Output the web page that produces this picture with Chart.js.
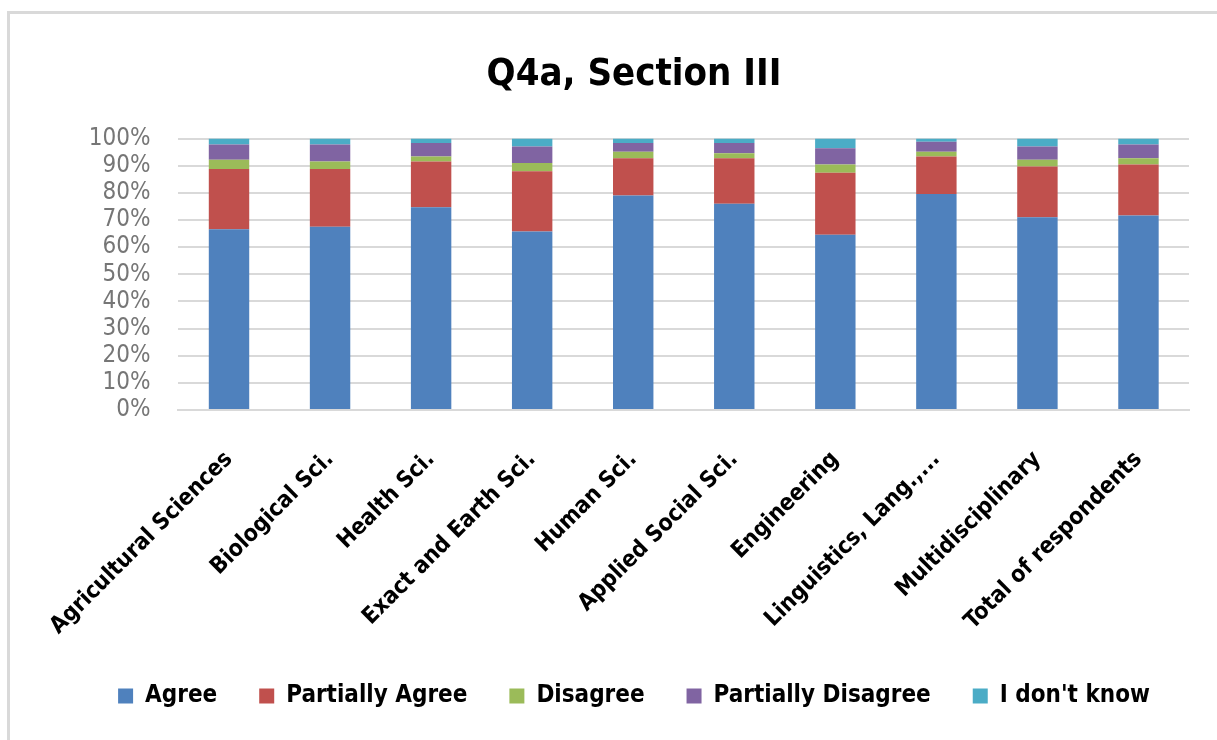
<!DOCTYPE html>
<html>
<head>
<meta charset="utf-8">
<script src="https://cdn.jsdelivr.net/npm/chart.js@4"></script>
<style>
  html, body { margin: 0; background: #fff; overflow: hidden; }
  #frame {
    position: absolute; left: 7px; top: 11px;
    width: 1251px; height: 729px;
    border-left: 3px solid #d9d9d9; border-top: 3px solid #d9d9d9;
  }
  #frame canvas { display: block; }
</style>
</head>
<body>
<div id="frame"><canvas id="q4a" width="1248" height="726"></canvas></div>
<script>
var categories = ['Agricultural Sciences', 'Biological Sci.', 'Health Sci.', 'Exact and Earth Sci.',
  'Human Sci.', 'Applied Social Sci.', 'Engineering', 'Linguistics, Lang.,...', 'Multidisciplinary',
  'Total of respondents'];

// shares in percent, each column sums to 100
var agree            = [66.6, 67.5, 74.7, 65.8, 79.0, 76.0, 64.6, 79.6, 71.0, 71.7];
var partiallyAgree   = [22.2, 21.3, 16.9, 22.2, 13.8, 16.8, 22.8, 13.8, 18.7, 18.8];
var disagree         = [ 3.4,  2.8,  1.8,  3.0,  2.4,  1.8,  3.1,  1.8,  2.5,  2.3];
var partialDisagree  = [ 5.6,  6.2,  5.0,  6.1,  3.2,  3.8,  5.9,  3.6,  4.9,  5.0];
var dontKnow         = [ 2.2,  2.2,  1.6,  2.9,  1.6,  1.6,  3.6,  1.2,  2.9,  2.2];

var seriesNames = ['Agree', 'Partially Agree', 'Disagree', 'Partially Disagree', "I don't know"];
var seriesColors = ['#4f81bd', '#c0504d', '#9bbb59', '#8064a2', '#4bacc6'];
var yTicks = [0, 10, 20, 30, 40, 50, 60, 70, 80, 90, 100];

var FONT = "'Liberation Sans Narrow', 'DejaVu Sans Condensed', 'Open Sans', sans-serif";

var datasets = [agree, partiallyAgree, disagree, partialDisagree, dontKnow].map(function (vals, i) {
  return {
    label: seriesNames[i],
    data: vals,
    backgroundColor: seriesColors[i],
    borderWidth: 0,
    barPercentage: 0.4,
    categoryPercentage: 1.0
  };
});

new Chart(document.getElementById('q4a').getContext('2d'), {
  type: 'bar',
  data: { labels: categories, datasets: datasets },
  options: {
    responsive: false,
    animation: false,
    events: [],
    layout: { padding: { left: 0, right: 0, top: 0, bottom: 22 } },
    scales: {
      x: {
        stacked: true,
        grid: { display: false, drawTicks: false },
        border: { display: true, color: '#d9d9d9', width: 2 },
        ticks: {
          autoSkip: false,
          minRotation: 45,
          maxRotation: 45,
          padding: 36,
          color: '#000',
          font: { family: FONT, size: 23, weight: 'bold' }
        },
        afterFit: function (axis) { axis.height = 232; }
      },
      y: {
        stacked: true,
        min: 0,
        max: 100,
        afterBuildTicks: function (axis) {
          axis.ticks = yTicks.map(function (v) { return { value: v }; });
        },
        grid: { color: '#d9d9d9', lineWidth: 2, drawTicks: false },
        border: { display: false },
        ticks: {
          autoSkip: false,
          padding: 28,
          color: '#767676',
          font: { family: FONT, size: 24 },
          callback: function (v) { return v + '%'; }
        },
        afterFit: function (axis) { axis.width = 168; }
      },
      // empty right-hand margin of the plot
      yRight: {
        position: 'right',
        grid: { display: false, drawTicks: false },
        border: { display: false },
        ticks: { display: false },
        afterFit: function (axis) { axis.width = 69; }
      }
    },
    plugins: {
      title: {
        display: true,
        text: 'Q4a, Section III',
        color: '#000',
        font: { family: FONT, size: 38, weight: 'bold' },
        padding: { top: 38, bottom: 41 }
      },
      legend: {
        position: 'bottom',
        labels: {
          boxWidth: 15,
          boxHeight: 15,
          padding: 42,
          color: '#000',
          font: { family: FONT, size: 24, weight: 'bold' }
        }
      },
      tooltip: { enabled: false }
    }
  }
});
</script>
</body>
</html>
